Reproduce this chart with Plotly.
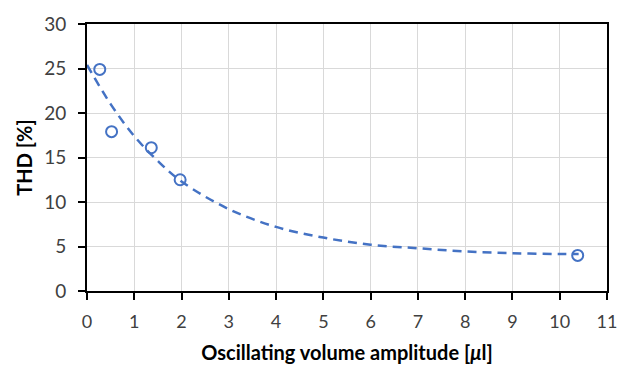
import plotly.graph_objects as go

# Measured data points
x_data = [0.27, 0.52, 1.36, 1.97, 10.38]
y_data = [24.9, 17.9, 16.1, 12.5, 4.0]

# Dashed trend curve
x_trend = [0, 0.5, 1, 1.5, 2, 3, 4, 5, 6, 7, 8, 9, 10, 10.4]
y_trend = [25.4, 21.0, 17.4, 14.6, 12.3, 9.2, 7.2, 6.0, 5.2, 4.8, 4.45, 4.25, 4.15, 4.15]

x_ticks = list(range(0, 12))
y_ticks = [0, 5, 10, 15, 20, 25, 30]

blue = "#4472C4"
font_family = "Lato, Open Sans, sans-serif"

fig = go.Figure()
fig.add_trace(go.Scatter(
    x=x_trend, y=y_trend, mode="lines",
    line=dict(color=blue, width=2.5, dash="9px,6px", shape="spline"),
    showlegend=False, hoverinfo="skip"))
fig.add_trace(go.Scatter(
    x=x_data, y=y_data, mode="markers",
    marker=dict(symbol="circle-open", size=11, color=blue, line=dict(width=2, color=blue)),
    showlegend=False))

axis_common = dict(
    showline=True, linecolor="black", linewidth=2, mirror=True,
    showgrid=True, gridcolor="#d9d9d9", gridwidth=1,
    ticks="outside", ticklen=7, tickwidth=2, tickcolor="black",
    zeroline=False,
)

fig.update_xaxes(range=[0, 11], tickvals=x_ticks, ticktext=[str(v) for v in x_ticks],
                 ticklabelstandoff=6, automargin=False,
                 tickfont=dict(family=font_family, size=18, color="#404040"),
                 title=dict(text="<b>Oscillating volume amplitude [<i>μ</i>l]</b>",
                            font=dict(family=font_family, size=20, color="black")),
                 **axis_common)
fig.update_yaxes(range=[0, 30], tickvals=y_ticks, ticktext=[str(v) for v in y_ticks],
                 ticklabelstandoff=8, automargin=True,
                 tickfont=dict(family=font_family, size=19, color="#404040"),
                 title=dict(text="<b>THD [%]</b>", standoff=6,
                            font=dict(family=font_family, size=20, color="black")),
                 **axis_common)

fig.update_layout(
    width=621, height=365,
    margin=dict(l=87, r=13, t=21, b=74),
    paper_bgcolor="white", plot_bgcolor="white",
)

fig.write_html("out.html")
